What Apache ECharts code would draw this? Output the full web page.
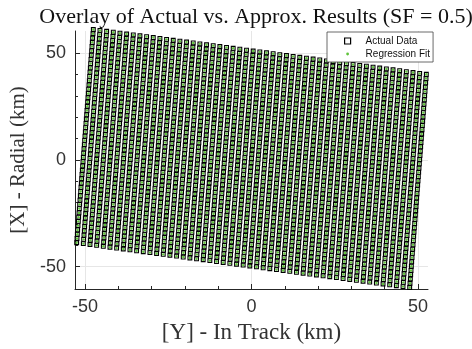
<!DOCTYPE html>
<html>
<head>
<meta charset="utf-8">
<script src="https://cdn.jsdelivr.net/npm/echarts@6/dist/echarts.min.js"></script>
<style>
  html, body { margin: 0; padding: 0; background: #fff; }
  #chart { width: 472px; height: 349px; }
</style>
</head>
<body>
<div id="chart"></div>
<script>
// nominal lattice of the sample grid (km)
var inTrackNominal = [-50, -48, -46, -44, -42, -40, -38, -36, -34, -32, -30, -28, -26, -24, -22, -20, -18,
  -16, -14, -12, -10, -8, -6, -4, -2, 0, 2, 4, 6, 8, 10, 12, 14, 16, 18, 20, 22, 24, 26, 28, 30, 32, 34,
  36, 38, 40, 42, 44, 46, 48, 50];
var radialNominal = [-50, -48, -46, -44, -42, -40, -38, -36, -34, -32, -30, -28, -26, -24, -22, -20, -18,
  -16, -14, -12, -10, -8, -6, -4, -2, 0, 2, 4, 6, 8, 10, 12, 14, 16, 18, 20, 22, 24, 26, 28, 30, 32, 34,
  36, 38, 40, 42, 44, 46, 48, 50];
// grid tilt: [in-track per radial, radial per in-track, radial offset]
var gridTilt = [0.05, -0.21, 0.7];

var xMajorTicks = [-50, 0, 50];
var xMinorTicks = [-40, -30, -20, -10, 10, 20, 30, 40];
var yMajorTicks = [-50, 0, 50];
var yMinorTicks = [-40, -30, -20, -10, 10, 20, 30, 40];

var actualData = [];
inTrackNominal.forEach(function (u) {
  radialNominal.forEach(function (v) {
    actualData.push([u + gridTilt[0] * v, v + gridTilt[1] * u + gridTilt[2]]);
  });
});
var fitData = actualData.slice();

var chart = echarts.init(document.getElementById('chart'));

var axisColor = '#262626';
var sans = 'Liberation Sans';
var serif = 'Liberation Serif';

var option = {
  animation: false,
  title: {
    text: 'Overlay of Actual vs. Approx. Results (SF = 0.5)',
    left: 251,
    top: 1,
    textAlign: 'center',
    textStyle: { fontFamily: serif, fontSize: 22, fontWeight: 'normal', color: '#111' }
  },
  legend: {
    orient: 'vertical',
    left: 327,
    top: 32,
    padding: [4, 3, 3, 16],
    itemGap: 3,
    itemWidth: 6,
    itemHeight: 6,
    backgroundColor: '#fff',
    borderColor: '#444',
    borderWidth: 0.8,
    borderRadius: 0,
    textStyle: { fontFamily: sans, fontSize: 10, color: '#111', padding: [0, 0, 0, 10] },
    data: [
      { name: 'Actual Data', icon: 'rect', itemStyle: { color: 'transparent', borderColor: '#000', borderWidth: 1.2 } },
      { name: 'Regression Fit', icon: 'circle', itemStyle: { color: '#5fc33a', borderColor: '#fff', borderWidth: 3.2 } }
    ]
  },
  grid: { left: 75, right: 44, top: 31, bottom: 59, containLabel: false },
  xAxis: [
    {
      type: 'value', min: -53, max: 53, position: 'bottom',
      name: '[Y] - In Track (km)', nameLocation: 'middle', nameGap: 32,
      nameTextStyle: { fontFamily: serif, fontSize: 23, color: '#333' },
      axisLine: { show: true, onZero: false, lineStyle: { color: axisColor, width: 1 } },
      axisTick: { show: true, inside: true, length: 5, customValues: xMajorTicks, lineStyle: { color: axisColor } },
      axisLabel: { customValues: xMajorTicks, fontFamily: sans, fontSize: 18, color: '#333', margin: 9 },
      splitLine: { show: true, lineStyle: { color: '#e6e6e6', width: 1 } }
    },
    {
      type: 'value', min: -53, max: 53, position: 'bottom',
      axisLine: { show: false, onZero: false },
      axisTick: { show: true, inside: true, length: 3, customValues: xMinorTicks, lineStyle: { color: axisColor } },
      axisLabel: { show: false },
      splitLine: { show: false }
    }
  ],
  yAxis: [
    {
      type: 'value', min: -60.5, max: 60.5, position: 'left',
      name: '[X] - Radial (km)', nameLocation: 'middle', nameGap: 36,
      nameTextStyle: { fontFamily: serif, fontSize: 21, color: '#333' },
      axisLine: { show: true, onZero: false, lineStyle: { color: axisColor, width: 1 } },
      axisTick: { show: true, inside: true, length: 5, customValues: yMajorTicks, lineStyle: { color: axisColor } },
      axisLabel: { customValues: yMajorTicks, fontFamily: sans, fontSize: 18, color: '#333', margin: 9 },
      splitLine: { show: true, lineStyle: { color: '#e6e6e6', width: 1 } }
    },
    {
      type: 'value', min: -60.5, max: 60.5, position: 'left',
      axisLine: { show: false, onZero: false },
      axisTick: { show: true, inside: true, length: 3, customValues: yMinorTicks, lineStyle: { color: axisColor } },
      axisLabel: { show: false },
      splitLine: { show: false }
    }
  ],
  series: [
    {
      name: 'Actual Data',
      type: 'scatter',
      clip: false,
      symbol: 'rect',
      symbolSize: 3.8,
      itemStyle: { color: 'transparent', borderColor: '#000', borderWidth: 1.1, opacity: 1 },
      data: actualData
    },
    {
      name: 'Regression Fit',
      type: 'scatter',
      clip: false,
      symbol: 'circle',
      symbolSize: 2.4,
      itemStyle: { color: '#5fc33a', opacity: 1 },
      data: fitData
    }
  ]
};

chart.setOption(option);
</script>
</body>
</html>
